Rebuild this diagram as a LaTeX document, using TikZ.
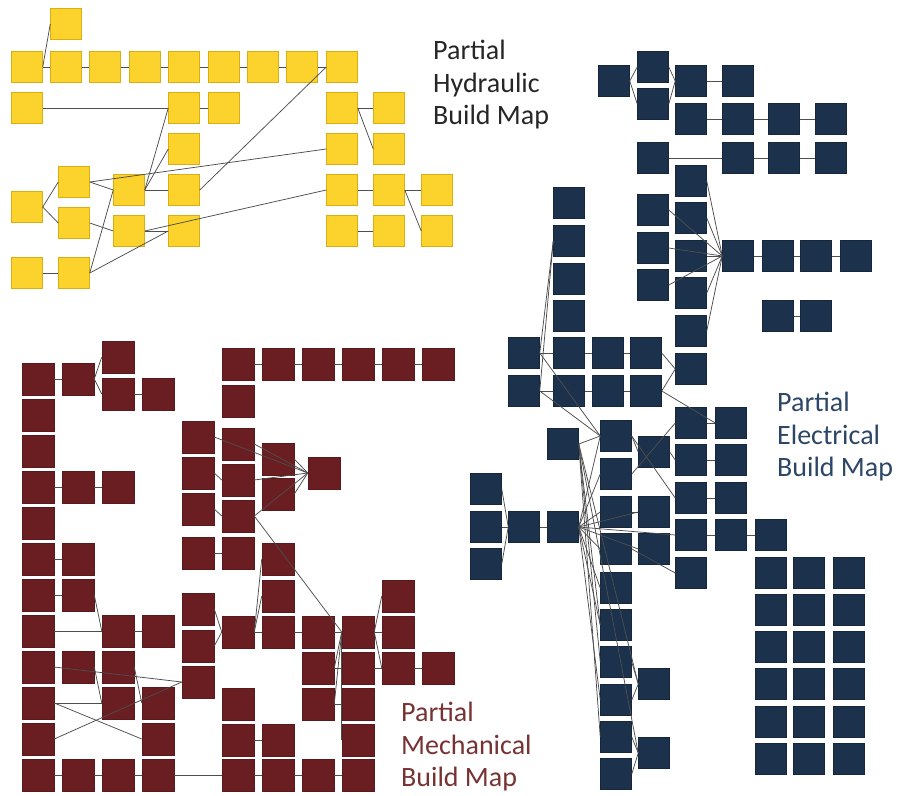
\documentclass[tikz,border=0pt]{standalone}
\usepackage{fontspec}
\setmainfont{Carlito}
\definecolor{HydFill}{HTML}{FCD22C}
\definecolor{HydEdge}{HTML}{D9AE12}
\definecolor{EleFill}{HTML}{1C314B}
\definecolor{MecFill}{HTML}{6A1E22}
\definecolor{EleText}{HTML}{2C4665}
\definecolor{MecText}{HTML}{773333}
\definecolor{LinkGray}{HTML}{4D4D4D}
\tikzset{
  sq/.style={minimum size=31pt,inner sep=0pt,line width=0.5pt},
  hydbox/.style={sq,draw=HydEdge,fill=HydFill},
  elebox/.style={sq,draw=EleFill!80!black,fill=EleFill},
  mecbox/.style={sq,draw=MecFill!85!black,fill=MecFill,minimum size=32pt},
  link/.style={LinkGray,line width=0.75pt},
  mapname/.style={anchor=north west,inner sep=0pt,align=left,font=\fontsize{28}{32.5}\selectfont}
}

\begin{document}
\begin{tikzpicture}[x=1pt,y=-1pt]
  \useasboundingbox (0,0) rectangle (902,795);

  % hydraulic
  \foreach \n/\x/\y in {h0/66/24,
      h10/27/67,h11/66/67,h12/105/67,h13/145/67,h14/184/67,h15/224/67,h16/263/67,h17/302/67,h18/342/67,
      h20/27/108,h24/184/108,h25/224/108,h28/342/108,h29/389/108,
      h34/184/149,h38/342/149,h39/389/149,
      hA/74/182,hB/129/190,hC/184/190,hD/342/190,hE/389/190,hF/437/190,
      hG/27/207,hH/74/223,hI/129/231,hJ/184/231,hK/342/231,hL/389/231,hM/437/231,
      hN/27/273,hO/74/273} {
    \node[hydbox] (\n) at (\x,\y) {};
  }
  \foreach \a/\b in {h10/h0,h10/h11,h11/h12,h12/h13,h13/h14,h14/h15,h15/h16,h16/h17,h17/h18,
      h20/h24,h24/h25,hB/h24,hB/h34,hB/hC,hC/h18,hG/hA,hG/hH,hA/hB,hA/h38,
      hH/hI,hI/hJ,hI/hD,hO/hB,hO/hJ,hN/hO,h28/h29,h28/h39,hD/hE,hE/hF,hE/hM,hK/hL} {
    \draw[link] (\a.east) -- (\b.west);
  }

  % electrical
  \foreach \n/\x/\y in {e01/614/81,e02/653/67,e03/653/104,e04/691/81,e05/738/81,
      e06/691/119,e07/738/119,e08/784/119,e09/831/119,
      e10/653/158,e11/738/158,e12/784/158,e13/831/158,
      ec1/691/181,ec2/691/218,ec3/691/256,ec4/691/293,ec5/691/331,ec6/691/369,
      eb1/653/210,eb2/653/248,eb3/653/285,
      ehub/738/256,er1/778/256,er2/816/256,er3/856/256,es1/778/316,es2/816/316,
      el1/569/203,el2/569/241,el3/569/279,el4/569/316,
      ea1/524/353,ea2/569/353,ea3/608/353,ea4/646/353,
      ea5/524/391,ea6/569/391,ea7/608/391,ea8/646/391,
      ep1/691/423,ep2/731/423,eq1/616/436,ehubb/563/444,eq3/654/452,
      ep3/691/460,ep4/731/460,eq2/616/474,ew1/486/489,
      ep5/691/498,ep6/731/498,eq4/616/512,eq5/654/512,
      ew2/486/527,ew3/524/527,ehubc/563/527,
      ep7/691/535,ep8/731/535,ep9/771/535,eq6/616/549,eq7/654/549,
      ew4/486/564,ep10/691/573,
      ek1/616/588,ek2/616/625,ek3/616/662,ek4/616/700,ek5/616/737,ek6/616/774,
      em1/654/684,em2/654/753} {
    \node[elebox] (\n) at (\x,\y) {};
  }
  \foreach \r/\y in {1/573,2/610,3/647,4/684,5/722,6/759} {
    \foreach \c/\x in {1/771,2/809,3/849} {
      \node[elebox] (eg\r\c) at (\x,\y) {};
    }
  }
  \foreach \a/\b in {e01/e02,e01/e03,e02/e04,e03/e04,e04/e05,e06/e07,e07/e08,e08/e09,
      e10/e11,e11/e12,e12/e13,
      ec1/ehub,ec2/ehub,ec3/ehub,ec4/ehub,ec5/ehub,eb1/ehub,eb2/ehub,eb3/ehub,
      ehub/er1,er1/er2,er2/er3,es1/es2,
      ea1/el2,ea5/el2,ea1/ea2,ea2/ea3,ea3/ea4,ea5/ea6,ea6/ea7,ea7/ea8,
      ea1/eq1,ea5/eq1,ea4/ec6,ea8/ec6,ea8/ep2,
      ep1/ep2,ep3/ep4,ep5/ep6,ep7/ep8,ep8/ep9,
      ehubb/eq1,eq1/eq3,eq3/ep3,eq1/ep5,eq2/ep1,
      ew1/ew3,ew2/ew3,ew4/ew3,ew3/ehubc,
      ehubc/eq1,ehubc/eq2,ehubc/eq4,ehubc/eq5,ehubc/eq6,ehubc/eq7,ehubc/ep7,
      ehubc/ek1,ehubc/ek2,ehubc/ek4,eq4/eq5,eq6/ep10,
      ehubb/ek2,ehubb/ek3,ehubb/em1,ehubb/em2,ehubb/ek5,
      ek3/em1,ek4/em1,ek5/em2,ek6/em2} {
    \draw[link] (\a.east) -- (\b.west);
  }

  % mechanical
  \foreach \n/\x/\y in {ma1/38/379,ma2/78/379,ma3/118/357,ma4/118/394,ma5/158/394,
      ml2/38/415,ml3/38/451,ml4/38/487,mb2/78/487,mb3/118/487,
      ml5/38/523,ml6/38/559,mc2/78/559,ml7/38/595,md2/78/595,
      ml8/38/631,md3/118/631,md4/158/631,
      ml9/38/667,me2/78/667,me3/118/667,
      ml10/38/703,mf3/118/703,mf4/158/703,ml11/38/739,mg4/158/739,
      mh1/38/775,mh2/78/775,mh3/118/775,mh4/158/775,mh6/238/775,mh7/278/775,mh8/318/775,mh9/358/775,
      mt1/238/364,mt2/278/364,mt3/318/364,mt4/358/364,mt5/398/364,mt6/438/364,mt7/238/401,
      mu1/198/437,mu2/238/444,mu3/278/459,mhub/324/473,
      mv1/198/473,mv2/238/480,mv3/278/494,mw1/198/509,mw2/238/516,
      mx1/198/553,mx2/238/553,mx3/278/559,my3/278/596,my9/398/596,mz0/198/609,
      mk2/238/632,mk3/278/632,mk4/318/632,mk5/358/632,mk6/398/632,mz1/198/646,
      mj4/318/668,mj5/358/668,mj6/398/668,mj7/438/668,mz2/198/682,
      mi2/238/704,mi4/318/704,mi5/358/704,mg6/238/740,mg7/278/740,mg9/358/740} {
    \node[mecbox] (\n) at (\x,\y) {};
  }
  \foreach \a/\b in {ma1/ma2,ma2/ma3,ma2/ma4,ma4/ma5,ml4/mb2,mb2/mb3,ml6/mc2,
      ml7/md2,md2/md3,ml8/md3,md3/md4,ml9/mz2,me2/mf3,me3/mf4,ml10/mf3,ml10/mg4,ml11/mz2,
      mt1/mt2,mt2/mt3,mt3/mt4,mt4/mt5,mt5/mt6,
      mu1/mhub,mu2/mhub,mu3/mhub,mv2/mhub,mv3/mhub,mw2/mhub,mv1/mv2,mw1/mw2,mw2/mk5,mx1/mx2,
      mz0/mk2,mz1/mk2,mk2/my3,mk2/mx3,mk2/mk3,mk3/mk4,mk4/mk5,mk5/mk6,mk5/my9,mk5/mj6,
      mj4/mk5,mi4/mk5,mi4/mi5,mj4/mj5,mj5/mj6,mj6/mj7,mg6/mg7,
      mh1/mh2,mh2/mh3,mh3/mh4,mh4/mh6,mh6/mh7,mh7/mh8,mh8/mh9} {
    \draw[link] (\a.east) -- (\b.west);
  }
  \draw[link] (mk5.west) -- (mg9.west);

  \node[mapname,text=black!85] (hydname) at (433,40) {Partial\\Hydraulic\\Build Map};
  \node[mapname,text=EleText] (elename) at (777,392) {Partial\\Electrical\\Build Map};
  \node[mapname,text=MecText] (mecname) at (401,702) {Partial\\Mechanical\\Build Map};
\end{tikzpicture}
\end{document}
